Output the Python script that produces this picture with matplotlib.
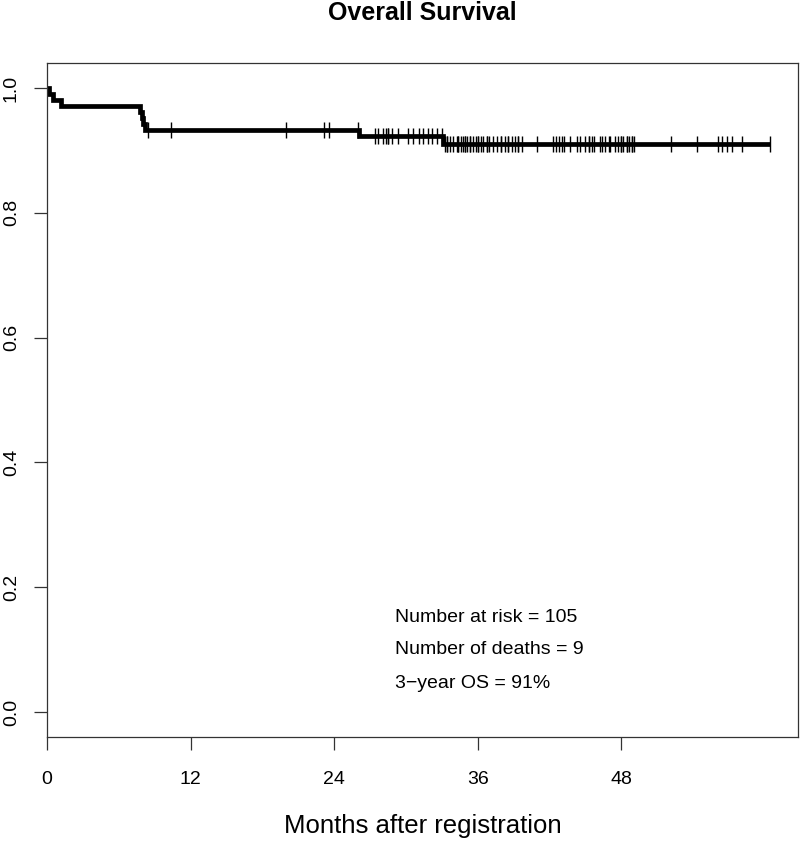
import numpy as np
import matplotlib
matplotlib.use("Agg")
import matplotlib.pyplot as plt

plt.rcParams['font.family'] = ['Liberation Sans', 'DejaVu Sans']

# ---- data (months) ----
death_times = [0.2, 0.5, 1.2, 7.8, 7.9, 8.0, 8.2, 26.1, 33.1]
censor_times = [
    8.44, 10.36, 19.97, 23.14, 23.56, 26.0,
    27.40, 27.63, 28.10, 28.32, 28.51, 28.5, 28.80, 29.35, 30.19, 30.55,
    31.10, 31.44, 31.86, 32.14, 32.56, 32.97,
    33.25, 33.44, 33.44, 33.67, 33.94, 34.23, 34.36, 34.36, 34.56, 34.73,
    34.92, 34.92, 35.11, 35.34, 35.34, 35.61, 35.84, 36.03, 36.03, 36.23,
    36.45, 36.73, 36.73, 36.95, 37.24, 37.57, 37.90, 37.90, 38.26, 38.54,
    38.54, 38.82, 39.10, 39.37, 39.37, 39.66, 40.91, 42.25, 42.52, 42.80,
    43.05, 43.19, 43.69, 44.25, 44.53, 44.95, 45.30, 45.30, 45.56, 45.70,
    46.20, 46.34, 46.62, 46.95, 47.04, 47.45, 47.73, 47.95, 47.95, 48.15,
    48.43, 48.43, 48.62, 48.85, 48.85, 49.06, 52.13, 54.28, 56.06, 56.43,
    56.85, 57.20, 58.06, 60.45,
]
x_ticks = [0, 12, 24, 36, 48]
y_ticks = [0.0, 0.2, 0.4, 0.6, 0.8, 1.0]
y_tick_labels = ["0.0", "0.2", "0.4", "0.6", "0.8", "1.0"]
title = "Overall Survival"
x_label = "Months after registration"
notes = ["Number at risk = 105", "Number of deaths = 9", "3\u2212year OS = 91%"]

# ---- Kaplan-Meier estimate ----
times = np.array(death_times + censor_times, dtype=float)
events = np.array([1] * len(death_times) + [0] * len(censor_times))
uniq = np.unique(times)
surv = 1.0
step_t = [0.0]
step_s = [1.0]
for t in uniq:
    at_risk = np.sum(times >= t)
    d = np.sum((times == t) & (events == 1))
    if d > 0:
        surv *= (1 - d / at_risk)
        step_t.append(t)
        step_s.append(surv)
step_t.append(times.max())
step_s.append(surv)
step_t = np.array(step_t)
step_s = np.array(step_s)


def s_at(t):
    idx = np.searchsorted(step_t[:-1], t, side='right') - 1
    return step_s[idx]


cens = np.array(censor_times)
cens_s = np.array([s_at(t) for t in cens])

# ---- figure ----
fig = plt.figure(figsize=(8.0, 8.42), dpi=100)
ax = fig.add_axes([47 / 800, (842 - 737) / 842, 751 / 800, 674 / 842])

ax.step(step_t, step_s, where='post', color='black', lw=3.4,
        solid_joinstyle='miter', solid_capstyle='butt')
ax.plot(cens, cens_s, ls='none', marker='|', color='black',
        markersize=11, markeredgewidth=1.0)

ax.set_xlim(0, 62.75)
ax.set_ylim(-0.04, 1.04)
ax.set_xticks(x_ticks)
ax.set_xticklabels([str(v) for v in x_ticks])
ax.set_yticks(y_ticks)
ax.set_yticklabels(y_tick_labels, rotation=90, va='center')
for sp in ax.spines.values():
    sp.set_color('#333333')
    sp.set_linewidth(0.9)
ax.tick_params(axis='both', direction='out', length=9.5, width=0.9,
               color='#333333', labelsize=14)
ax.tick_params(axis='x', pad=15)
ax.tick_params(axis='y', pad=10)

ax.set_xlabel(x_label, fontsize=18.5, labelpad=19)

fig.text(422.5 / 800, 1 - 13 / 842, title, fontsize=18, fontweight='bold',
         ha='center', va='center')

note_y = [617, 650, 683]
for txt, py in zip(notes, note_y):
    ax.text((395 - 47) / 751, (737 - py) / 674, txt,
            transform=ax.transAxes, fontsize=14, ha='left', va='center')

fig.savefig("out.png", dpi=100)
